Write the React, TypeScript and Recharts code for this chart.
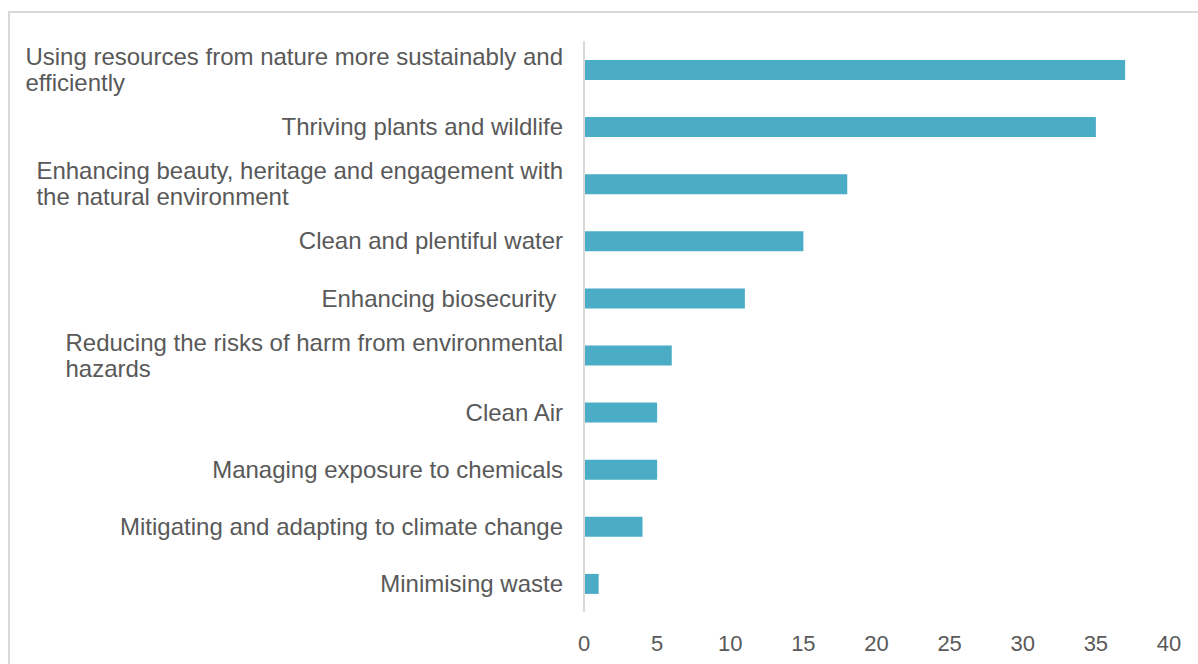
import React, { useLayoutEffect, useRef, useState } from "react";
import { BarChart, Bar, XAxis, YAxis } from "recharts";

const categories = [
  "Using resources from nature more sustainably and\nefficiently",
  "Thriving plants and wildlife",
  "Enhancing beauty, heritage and engagement with\nthe natural environment",
  "Clean and plentiful water",
  "Enhancing biosecurity ",
  "Reducing the risks of harm from environmental\nhazards",
  "Clean Air",
  "Managing exposure to chemicals",
  "Mitigating and adapting to climate change",
  "Minimising waste",
];
const counts = [37, 35, 18, 15, 11, 6, 5, 5, 4, 1];
const xTicks = [0, 5, 10, 15, 20, 25, 30, 35, 40];

const data = categories.map((name, i) => ({ name, value: counts[i] }));

const FONT = "'Liberation Sans', Arial, sans-serif";
const TEXT = "#595959";
const LINE_H = 26;

// wrapped labels: block sits right-aligned, lines inside it are left-aligned (like Excel)
const CategoryTick = (props: any) => {
  const { x, y, payload } = props;
  const lines = String(payload.value).split("\n");
  const ref = useRef<SVGTextElement>(null);
  const [blockW, setBlockW] = useState<number | null>(null);

  useLayoutEffect(() => {
    if (lines.length < 2 || !ref.current) return;
    let max = 0;
    ref.current.querySelectorAll("tspan").forEach((t) => {
      max = Math.max(max, (t as SVGTextContentElement).getComputedTextLength());
    });
    setBlockW(max);
  }, [payload.value]);

  const top = y - ((lines.length - 1) * LINE_H) / 2;
  const multi = lines.length > 1 && blockW !== null;
  const tx = multi ? x - (blockW as number) : x;

  return (
    <text
      ref={ref}
      x={tx}
      y={top}
      textAnchor={multi ? "start" : "end"}
      fill={TEXT}
      fontSize={24}
      fontFamily={FONT}
      style={{ whiteSpace: "pre" }}
    >
      {lines.map((ln, i) => (
        <tspan key={i} x={tx} y={top + i * LINE_H} dy="0.36em">
          {ln}
        </tspan>
      ))}
    </text>
  );
};

export default function App() {
  return (
    <div
      style={{
        position: "absolute",
        left: 8,
        top: 11,
        width: 1190,
        height: 653,
        borderTop: "2px solid #d9d9d9",
        borderLeft: "2px solid #d9d9d9",
        boxSizing: "border-box",
        background: "#fff",
        overflow: "hidden",
      }}
    >
      <BarChart
        layout="vertical"
        width={1188}
        height={651}
        data={data}
        margin={{ top: 28, right: 29, bottom: 0, left: 0 }}
        barCategoryGap={0}
      >
        <XAxis
          type="number"
          domain={[0, 40]}
          ticks={xTicks}
          axisLine={false}
          tickLine={false}
          tickMargin={17}
          height={52}
          tick={{ fill: TEXT, fontSize: 22, fontFamily: FONT }}
        />
        <YAxis
          type="category"
          dataKey="name"
          width={574}
          axisLine={{ stroke: "#d9d9d9", strokeWidth: 2 }}
          tickLine={false}
          tickMargin={15}
          interval={0}
          tick={<CategoryTick />}
        />
        <Bar dataKey="value" fill="#4bacc6" barSize={20} isAnimationActive={false} />
      </BarChart>
    </div>
  );
}
